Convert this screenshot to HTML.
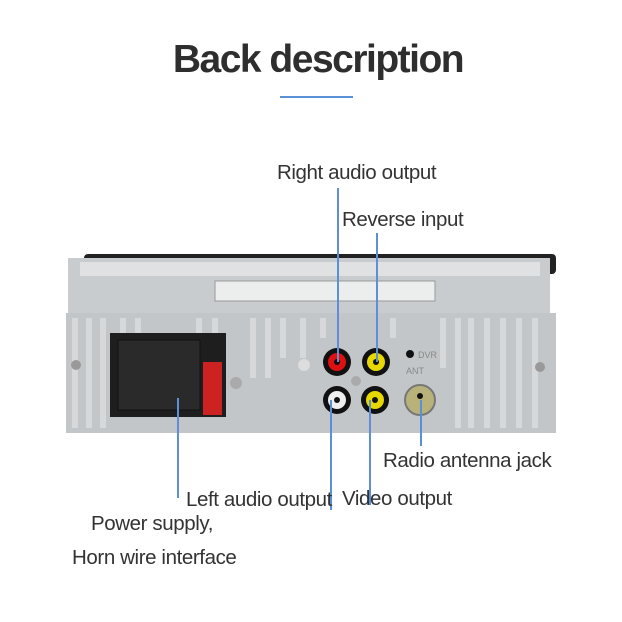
<!DOCTYPE html>
<html><head><style>
body{margin:0;width:622px;height:622px;background:#fff;position:relative;overflow:hidden;font-family:"Liberation Sans",sans-serif;}
.t{position:absolute;color:#333;font-size:20.5px;white-space:nowrap;letter-spacing:-0.4px}
.l{position:absolute;background:#5b8fd6;width:2px}
</style></head><body>
<div style="position:absolute;left:0;width:636px;top:38px;text-align:center;font-size:39px;font-weight:bold;color:#2e2e2e;letter-spacing:-1.5px">Back description</div>
<div style="position:absolute;left:280px;top:96px;width:73px;height:2px;background:#5b8fd6"></div>
<svg width="622" height="622" style="position:absolute;left:0;top:0">
<rect x="84" y="254" width="472" height="20" fill="#222" rx="4"/>
<rect x="68" y="258" width="482" height="60" fill="#c9ccce"/>
<rect x="80" y="262" width="460" height="14" fill="#dfe1e2"/>
<rect x="215" y="281" width="220" height="20" fill="#eceeee" stroke="#999"/>
<rect x="66" y="313" width="490" height="120" fill="#c3c6c8"/>
<g fill="#d6d8d9">
<rect x="72" y="318" width="6" height="110"/><rect x="86" y="318" width="6" height="110"/><rect x="100" y="318" width="6" height="110"/>
<rect x="120" y="318" width="6" height="15"/><rect x="135" y="318" width="6" height="15"/><rect x="196" y="318" width="6" height="15"/><rect x="212" y="318" width="6" height="15"/>
<rect x="468" y="318" width="6" height="110"/><rect x="484" y="318" width="6" height="110"/><rect x="500" y="318" width="6" height="110"/><rect x="516" y="318" width="6" height="110"/><rect x="532" y="318" width="6" height="110"/>
<rect x="250" y="318" width="6" height="60"/><rect x="265" y="318" width="6" height="60"/><rect x="280" y="318" width="6" height="40"/><rect x="300" y="318" width="6" height="40"/><rect x="440" y="318" width="6" height="50"/><rect x="455" y="318" width="6" height="110"/>
<rect x="320" y="318" width="6" height="20"/><rect x="390" y="318" width="6" height="20"/>
</g>
<circle cx="76" cy="365" r="5" fill="#999"/><circle cx="540" cy="367" r="5" fill="#999"/>
<rect x="110" y="333" width="116" height="84" fill="#1e1e1e"/>
<rect x="118" y="340" width="82" height="70" fill="#2a2a2a" stroke="#111"/>
<rect x="203" y="362" width="19" height="53" fill="#c22"/>
<circle cx="236" cy="383" r="6" fill="#aaa"/><circle cx="304" cy="365" r="6" fill="#ddd"/>
<circle cx="337" cy="362" r="14" fill="#111"/><circle cx="337" cy="362" r="9" fill="#d11"/><circle cx="337" cy="362" r="3" fill="#111"/>
<circle cx="376" cy="362" r="14" fill="#111"/><circle cx="376" cy="362" r="9" fill="#e6d800"/><circle cx="376" cy="362" r="3" fill="#111"/>
<circle cx="337" cy="400" r="14" fill="#111"/><circle cx="337" cy="400" r="9" fill="#eee"/><circle cx="337" cy="400" r="3" fill="#111"/>
<circle cx="375" cy="400" r="14" fill="#111"/><circle cx="375" cy="400" r="9" fill="#e6d800"/><circle cx="375" cy="400" r="3" fill="#111"/>
<circle cx="356" cy="381" r="5" fill="#aaa"/>
<circle cx="410" cy="354" r="4" fill="#111"/>
<text x="418" y="358" font-size="9" fill="#888" font-family="Liberation Sans">DVR</text>
<text x="406" y="374" font-size="9" fill="#888" font-family="Liberation Sans">ANT</text>
<circle cx="420" cy="400" r="15" fill="#b8b27a" stroke="#777" stroke-width="2"/><circle cx="420" cy="396" r="3" fill="#111"/>
</svg>
<div class="l" style="left:337px;top:188px;height:174px"></div>
<div class="l" style="left:376px;top:233px;height:129px"></div>
<div class="l" style="left:330px;top:400px;height:110px"></div>
<div class="l" style="left:369px;top:400px;height:105px"></div>
<div class="l" style="left:420px;top:400px;height:46px"></div>
<div class="l" style="left:177px;top:398px;height:100px"></div>
<div class="t" style="left:277px;top:161px">Right audio output</div>
<div class="t" style="left:342px;top:208px">Reverse input</div>
<div class="t" style="left:383px;top:449px">Radio antenna jack</div>
<div class="t" style="left:186px;top:488px">Left audio output</div>
<div class="t" style="left:342px;top:487px">Video output</div>
<div class="t" style="left:91px;top:512px">Power supply,</div>
<div class="t" style="left:72px;top:546px">Horn wire interface</div>
</body></html>
